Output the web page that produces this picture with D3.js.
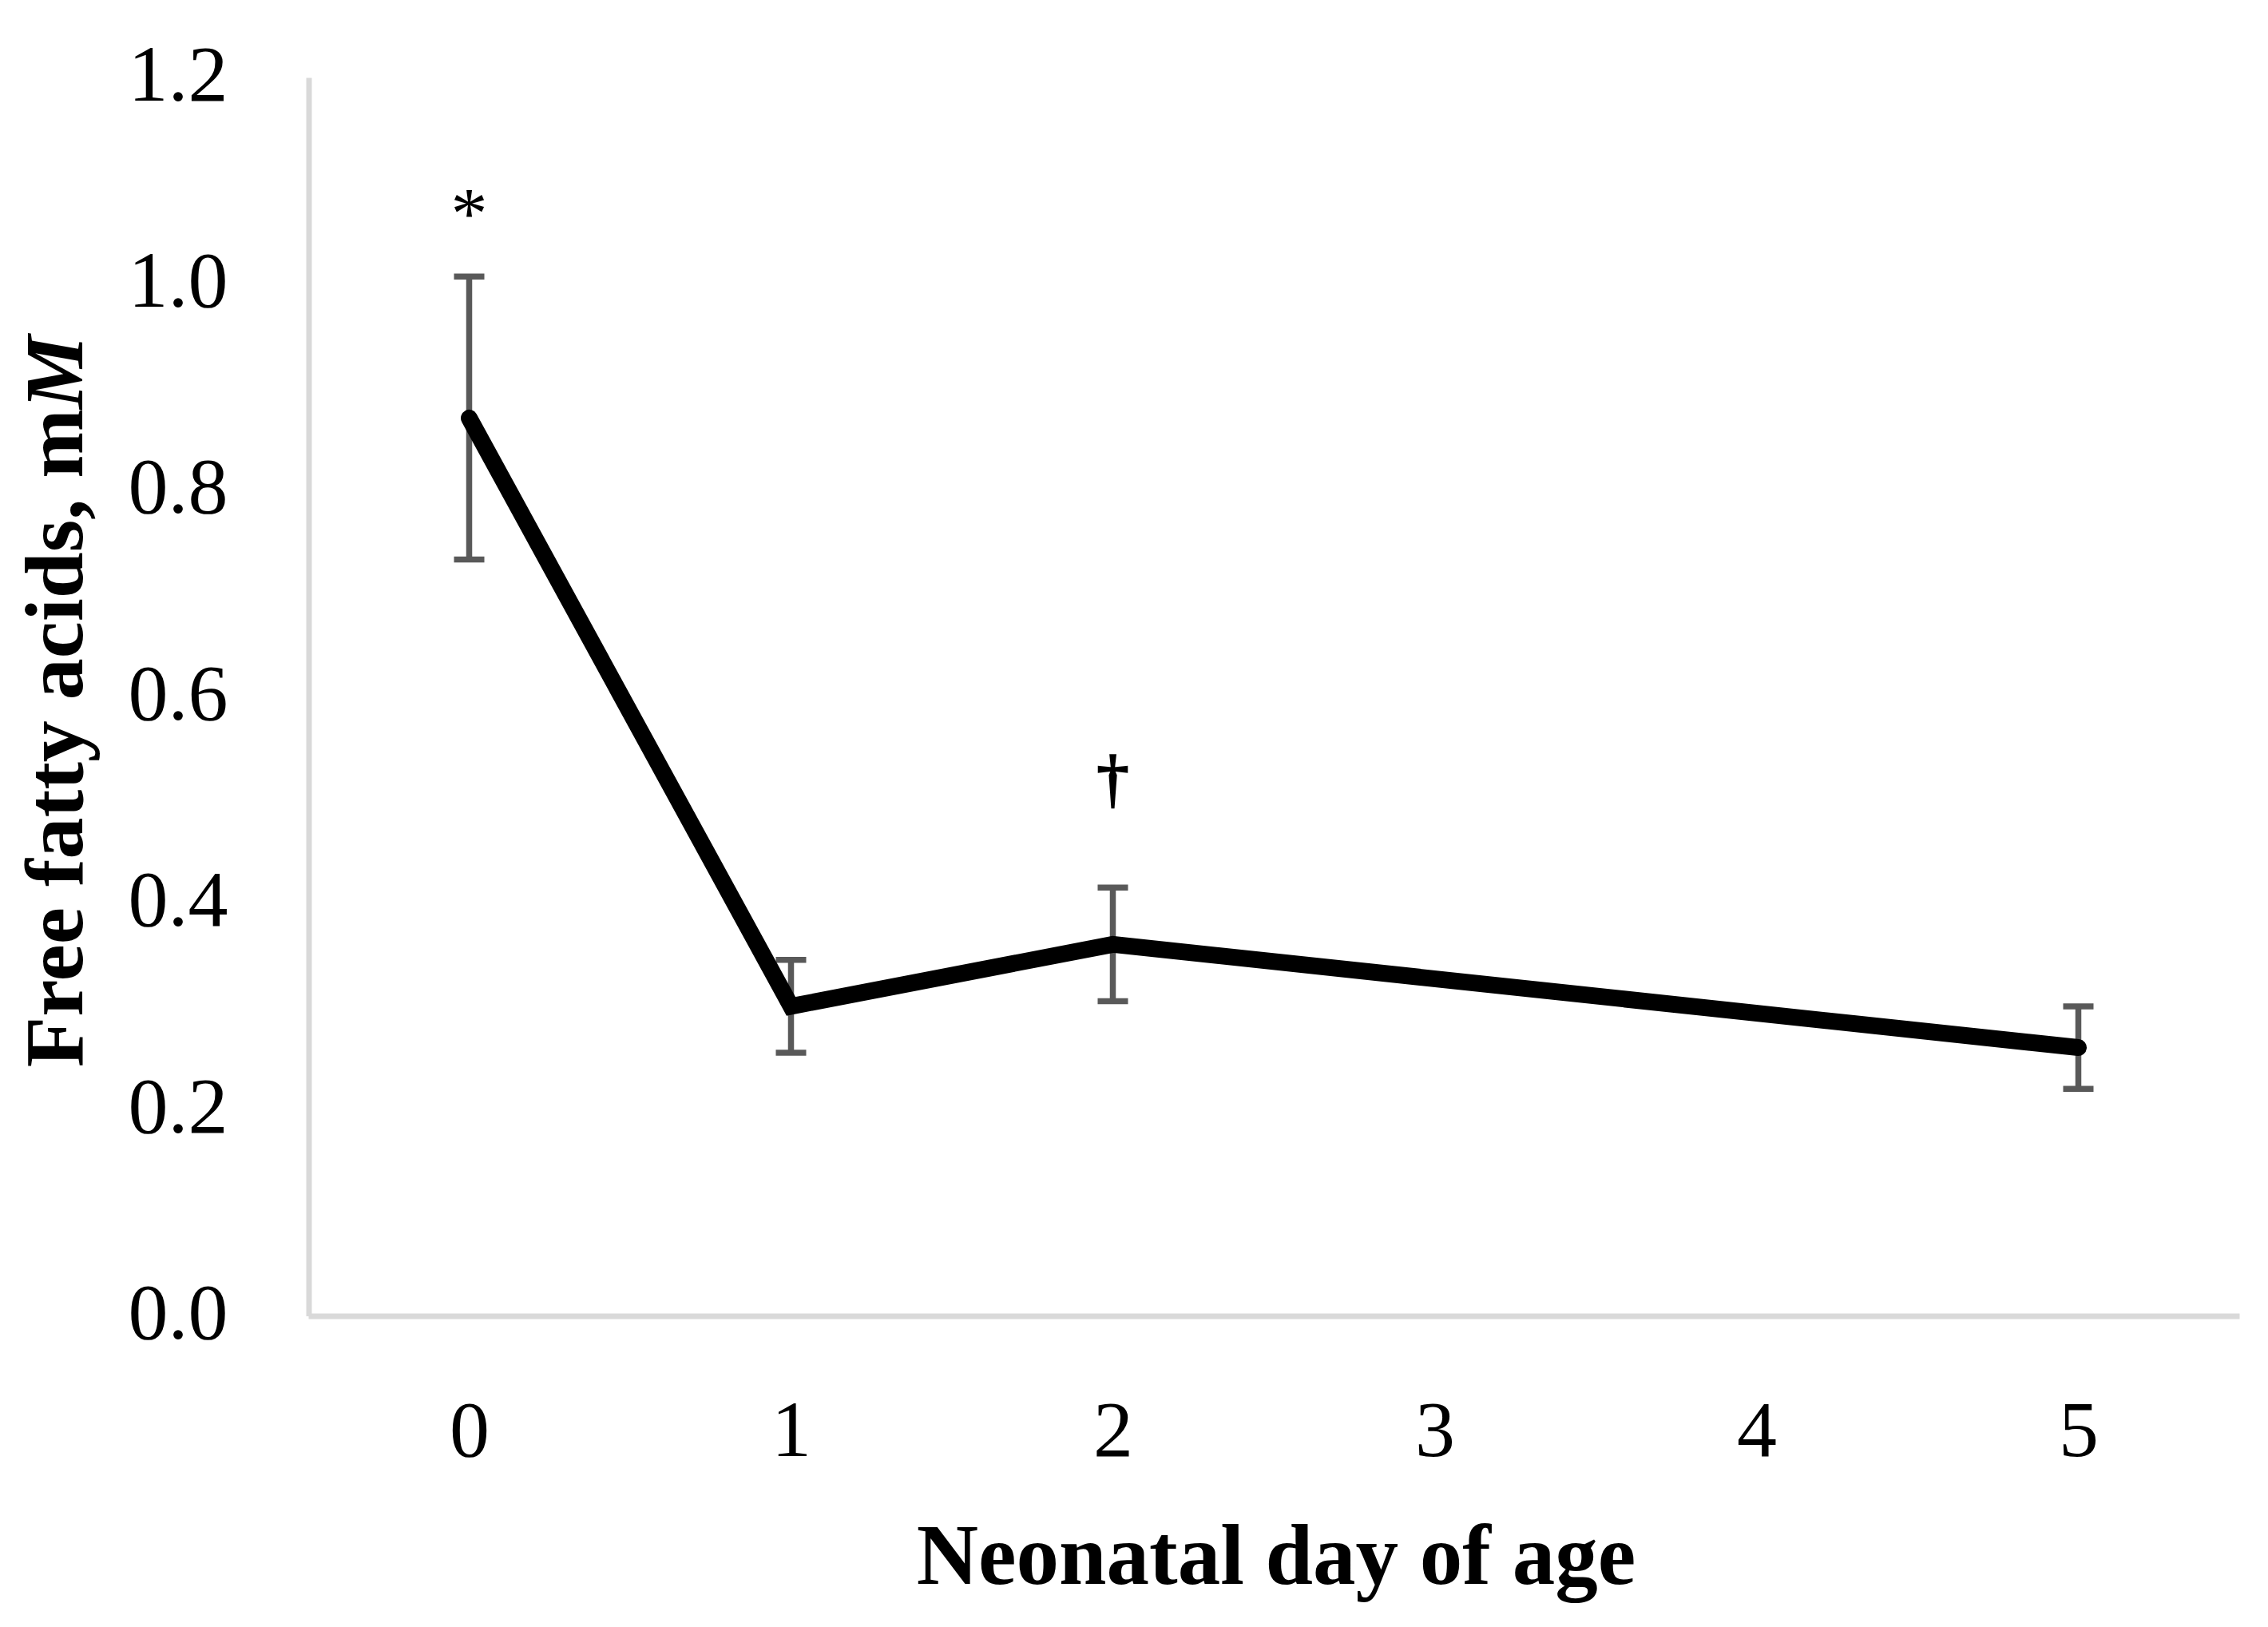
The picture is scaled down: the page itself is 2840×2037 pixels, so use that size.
<!DOCTYPE html>
<html>
<head>
<meta charset="utf-8">
<script src="https://cdn.jsdelivr.net/npm/d3@7/dist/d3.min.js"></script>
<style>
  html, body { margin: 0; padding: 0; background: #ffffff; }
  svg { display: block; }
</style>
</head>
<body>
<script>
// ---- Data ----
const days = ["0", "1", "2", "3", "4", "5"];
const ffaMean = [0.87, 0.30, 0.36, null, null, 0.26];   // mM
const ffaErr  = [0.137, 0.045, 0.055, null, null, 0.04]; // error bar half-length
const yTicks = [0.0, 0.2, 0.4, 0.6, 0.8, 1.0, 1.2];
const markDays = ["0", "2"];
const markSymbols = ["*", "\u2020"];
const markValues = [1.080, 0.516];   // vertical centre of the significance marks (mM)

const W = 2840, H = 2037;
const FONT = "'Liberation Serif', 'Times New Roman', serif";

const svg = d3.select("body").append("svg")
  .attr("width", W).attr("height", H)
  .attr("viewBox", `0 0 ${W} ${H}`);

svg.append("rect").attr("width", W).attr("height", H).attr("fill", "#ffffff");

const x = d3.scalePoint().domain(days).range([386, 2804]).padding(0.5);
const y = d3.scaleLinear().domain([0, 1.2]).range([1647.5, 97]);

// ---- Axes ----
const yAxis = svg.append("g")
  .attr("transform", "translate(386.5,0)")
  .call(d3.axisLeft(y).tickValues(yTicks).tickSize(0).tickSizeOuter(0)
        .tickPadding(101).tickFormat(d3.format(".1f")));
yAxis.select(".domain").attr("stroke", "#d9d9d9").attr("stroke-width", 7);
yAxis.selectAll(".tick text")
  .attr("font-family", FONT).attr("font-size", 100).attr("fill", "#000")
  .attr("dy", "0.28em");

const xAxis = svg.append("g")
  .attr("transform", "translate(0,1647.5)")
  .call(d3.axisBottom(x).tickSize(0).tickSizeOuter(0).tickPadding(104));
xAxis.select(".domain").attr("stroke", "#d9d9d9").attr("stroke-width", 7);
xAxis.selectAll(".tick text")
  .attr("font-family", FONT).attr("font-size", 100).attr("fill", "#000")
  .attr("dy", "0.71em");
svg.selectAll(".domain").attr("stroke-linecap", "butt");
svg.selectAll(".tick text").attr("font-family", FONT);

// ---- Data table ----
const pts = days.map((d, i) => ({ day: d, v: ffaMean[i], e: ffaErr[i] }))
                .filter(p => p.v !== null);

// ---- Error bars ----
const eb = svg.append("g").attr("stroke", "#595959").attr("stroke-width", 7.5).attr("fill", "none");
pts.forEach(p => {
  const cx = x(p.day);
  eb.append("line").attr("x1", cx).attr("x2", cx).attr("y1", y(p.v + p.e)).attr("y2", y(p.v - p.e));
  eb.append("line").attr("x1", cx - 19).attr("x2", cx + 19).attr("y1", y(p.v + p.e)).attr("y2", y(p.v + p.e));
  eb.append("line").attr("x1", cx - 19).attr("x2", cx + 19).attr("y1", y(p.v - p.e)).attr("y2", y(p.v - p.e));
});

// ---- Line ----
const line = d3.line().x(p => x(p.day)).y(p => y(p.v));
svg.append("path")
  .datum(pts)
  .attr("d", line)
  .attr("fill", "none")
  .attr("stroke", "#000000")
  .attr("stroke-width", 21)
  .attr("stroke-linecap", "round")
  .attr("stroke-linejoin", "miter");

// ---- Significance marks ----
const markSizes = [92, 80];
const markDy = [0.5, 0.27];
markDays.forEach((d, i) => {
  svg.append("text")
    .attr("x", x(d))
    .attr("y", y(markValues[i]))
    .attr("dy", markDy[i] + "em")
    .attr("text-anchor", "middle")
    .attr("font-family", FONT)
    .attr("font-size", markSizes[i])
    .attr("fill", "#000")
    .attr("stroke", "#000")
    .attr("stroke-width", i === 1 ? 2.5 : 0)
    .text(markSymbols[i]);
});

// ---- Axis titles ----
svg.append("text")
  .attr("x", 1598).attr("y", 1983)
  .attr("text-anchor", "middle")
  .attr("font-family", FONT).attr("font-size", 107).attr("font-weight", "bold")
  .attr("fill", "#000")
  .text("Neonatal day of age");

const yt = svg.append("text")
  .attr("transform", "translate(103,878) rotate(-90)")
  .attr("text-anchor", "middle")
  .attr("font-family", FONT).attr("font-size", 104).attr("font-weight", "bold")
  .attr("fill", "#000");
yt.append("tspan").text("Free fatty acids, m");
yt.append("tspan").attr("font-style", "italic").text("M");
</script>
</body>
</html>
